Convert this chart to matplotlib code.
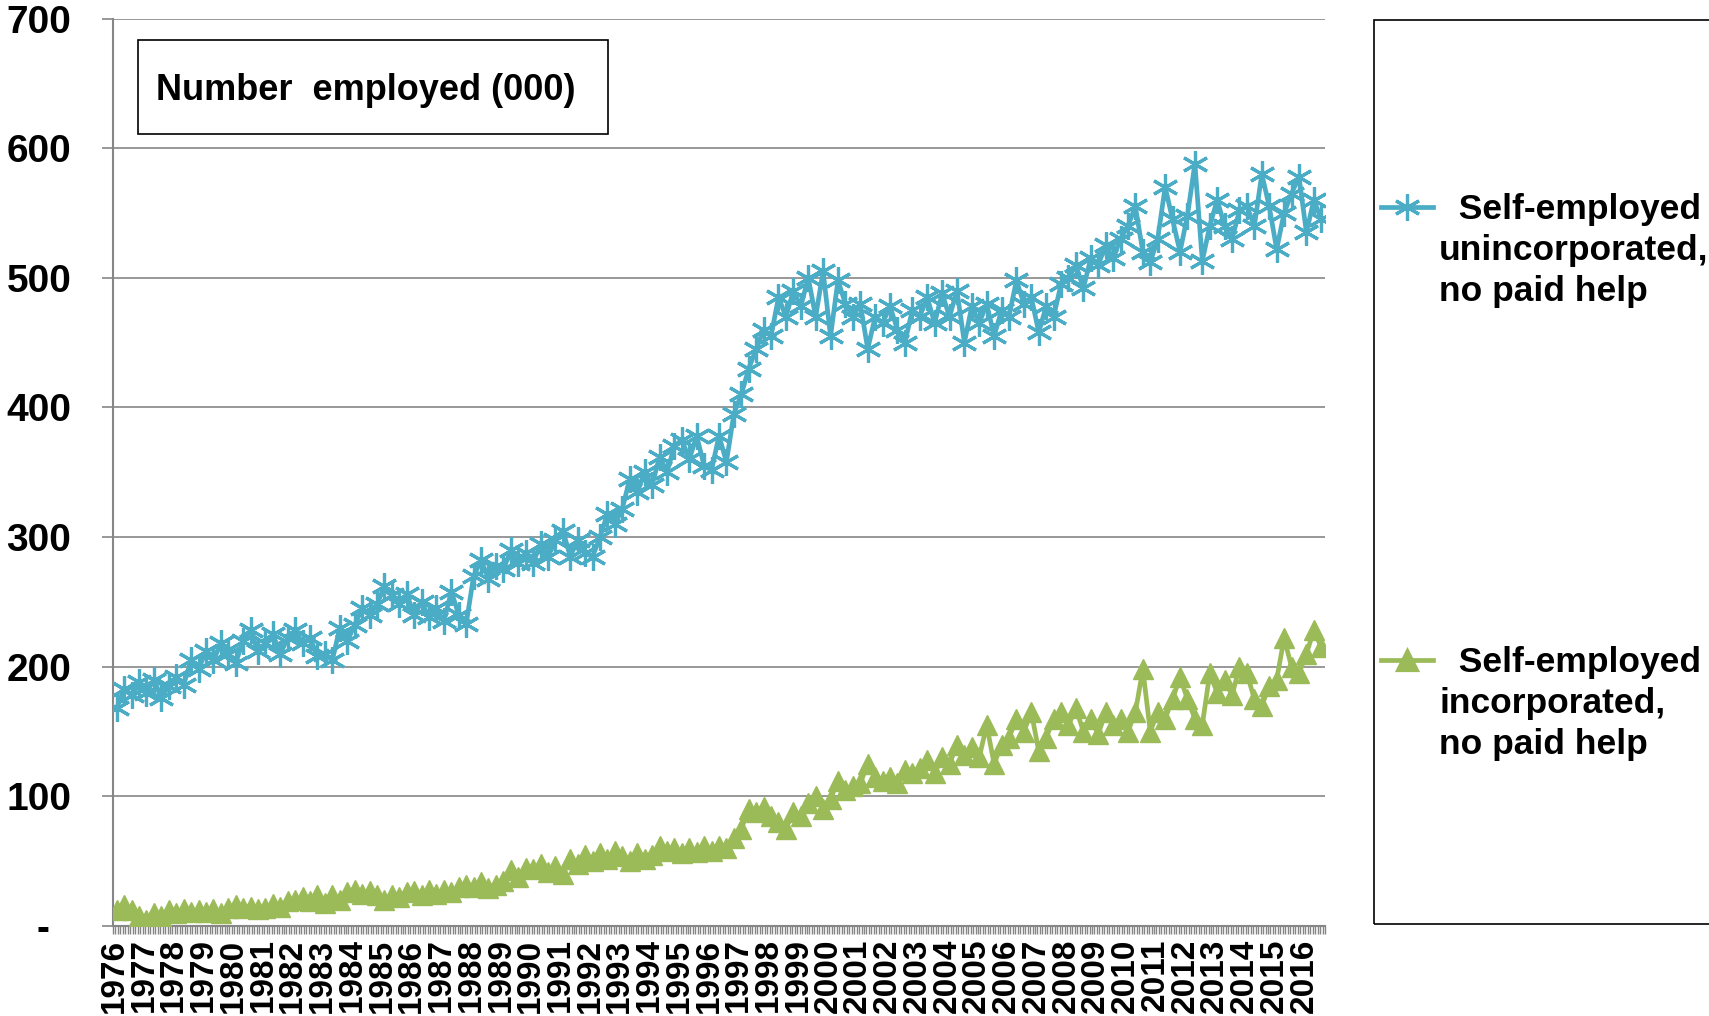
import numpy as np
import matplotlib.pyplot as plt
from matplotlib.patches import Rectangle
from matplotlib.lines import Line2D

plt.rcParams['font.family'] = ['Liberation Sans', 'DejaVu Sans']
plt.rcParams['font.weight'] = 'bold'

years = list(range(1976, 2017))

# quarterly values, thousands
unincorporated = [
    [168, 183, 178, 188], [180, 190, 176, 185], [192, 186, 205, 198], [212, 205, 218, 210],
    [203, 220, 228, 212], [218, 225, 210, 222], [228, 218, 222, 208], [210, 205, 230, 220],
    [232, 245, 240, 248], [262, 255, 248, 256], [240, 250, 238, 245], [235, 258, 240, 233],
    [270, 282, 268, 278], [275, 290, 280, 288], [280, 295, 285, 298], [305, 285, 298, 288],
    [285, 300, 318, 310], [322, 345, 335, 350], [340, 362, 350, 370], [375, 360, 378, 355],
    [352, 378, 358, 395], [410, 430, 445, 460], [455, 485, 470, 490], [478, 500, 470, 505],
    [455, 498, 480, 470], [480, 445, 470, 465], [478, 460, 450, 475], [470, 485, 465, 488],
    [470, 490, 450, 478], [465, 480, 455, 475], [470, 498, 480, 485], [458, 478, 470, 495],
    [500, 510, 492, 515], [510, 525, 515, 530], [540, 555, 520, 512], [530, 570, 545, 520],
    [548, 588, 513, 540], [560, 540, 530, 552], [555, 540, 580, 555], [522, 550, 565, 578],
    [535, 560, 545],
]
incorporated = [
    [12, 16, 12, 8], [5, 10, 8, 12], [10, 13, 11, 12], [11, 13, 10, 14],
    [16, 14, 15, 13], [14, 17, 15, 19], [20, 22, 19, 24], [18, 24, 20, 26],
    [28, 25, 27, 24], [20, 24, 22, 26], [27, 24, 28, 25], [28, 26, 30, 32],
    [30, 34, 29, 32], [35, 43, 38, 45], [44, 48, 42, 46], [40, 52, 48, 55],
    [50, 56, 52, 58], [54, 50, 56, 52], [55, 62, 58, 60], [56, 60, 57, 62],
    [58, 62, 60, 68], [75, 90, 88, 92], [85, 80, 75, 88], [85, 95, 100, 90],
    [98, 112, 105, 108], [110, 125, 115, 112], [115, 110, 120, 118], [122, 128, 118, 130],
    [125, 140, 132, 138], [130, 155, 125, 140], [145, 160, 150, 165], [135, 145, 160, 165],
    [155, 168, 150, 160], [148, 165, 155, 160], [150, 165, 198, 150], [165, 160, 175, 192],
    [175, 160, 155, 195], [180, 190, 178, 200], [195, 175, 170, 185], [190, 222, 200, 195],
    [210, 228, 215],
]

labels = ['Self-employed\nunincorporated,\nno paid help',
          'Self-employed\nincorporated,\nno paid help']
blue = '#4BACC6'
green = '#9BBB59'
grey = '#868686'

# month index of the middle of each quarter
def positions(series):
    xs, ys = [], []
    for i, vals in enumerate(series):
        for q, v in enumerate(vals):
            xs.append(i * 12 + 3 * q + 1)
            ys.append(v)
    return xs, ys

n_months = 489

fig = plt.figure(figsize=(17.09, 10.16), dpi=100)
ax = fig.add_axes([113 / 1709, 1 - 926 / 1016, (1325 - 113) / 1709, (926 - 18.5) / 1016])

x1, y1 = positions(unincorporated)
x2, y2 = positions(incorporated)
ax.plot(x1, y1, color=blue, lw=3.4, marker=(6, 2, 0), ms=19, mew=2.3, mec=blue, zorder=3)
ax.plot(x2, y2, color=green, lw=3.4, marker='^', ms=14, mec=green, mfc=green, zorder=3)

ax.set_xlim(-0.5, n_months - 0.5)
ax.set_ylim(0, 700)
ax.set_yticks(range(0, 701, 100))
ax.set_yticklabels(['-  '] + [str(v) for v in range(100, 701, 100)], fontsize=28, fontweight='bold')
ax.yaxis.grid(True, color=grey, lw=1.2)
ax.set_axisbelow(True)
ax.tick_params(axis='y', length=8, width=1.2, color=grey, pad=22)

ax.set_xticks([12 * i for i in range(len(years))])
ax.set_xticklabels([str(y) for y in years], rotation=90, fontsize=24, fontweight='bold')
ax.set_xticks(np.arange(n_months + 1) - 0.5, minor=True)
ax.tick_params(axis='x', which='major', length=0, pad=9)
ax.tick_params(axis='x', which='minor', length=6, width=1.0, color=grey)

for s in ['top', 'right']:
    ax.spines[s].set_visible(False)
for s in ['left', 'bottom']:
    ax.spines[s].set_color(grey)
    ax.spines[s].set_linewidth(1.5)

# title box
fig.add_artist(Rectangle((138 / 1709, 1 - 134 / 1016), 470 / 1709, 94 / 1016,
                         transform=fig.transFigure, fill=False, ec='black', lw=1.2))
fig.text(156 / 1709, 1 - 90 / 1016, 'Number  employed (000)', fontsize=26,
         fontweight='bold', va='center', ha='left')

# legend box
fig.add_artist(Rectangle((1374 / 1709, 1 - 924 / 1016), 400 / 1709, 904 / 1016,
                         transform=fig.transFigure, fill=False, ec='black', lw=1.2))
for ypix, col, mk, ms, lab in [(207, blue, (6, 2, 0), 19, labels[0]),
                               (660, green, '^', 14, labels[1])]:
    yf = 1 - ypix / 1016
    fig.add_artist(Line2D([1381 / 1709, 1433 / 1709], [yf, yf], transform=fig.transFigure,
                          color=col, lw=3.4))
    fig.add_artist(Line2D([1407 / 1709], [yf], transform=fig.transFigure, color=col,
                          marker=mk, ms=ms, mew=2.3, mec=col, mfc=col))
    fig.text(1439 / 1709, yf + 14 / 1016, '  ' + lab, fontsize=25.5, fontweight='bold',
             va='top', ha='left', linespacing=1.3)

fig.savefig('out.png', dpi=100)
